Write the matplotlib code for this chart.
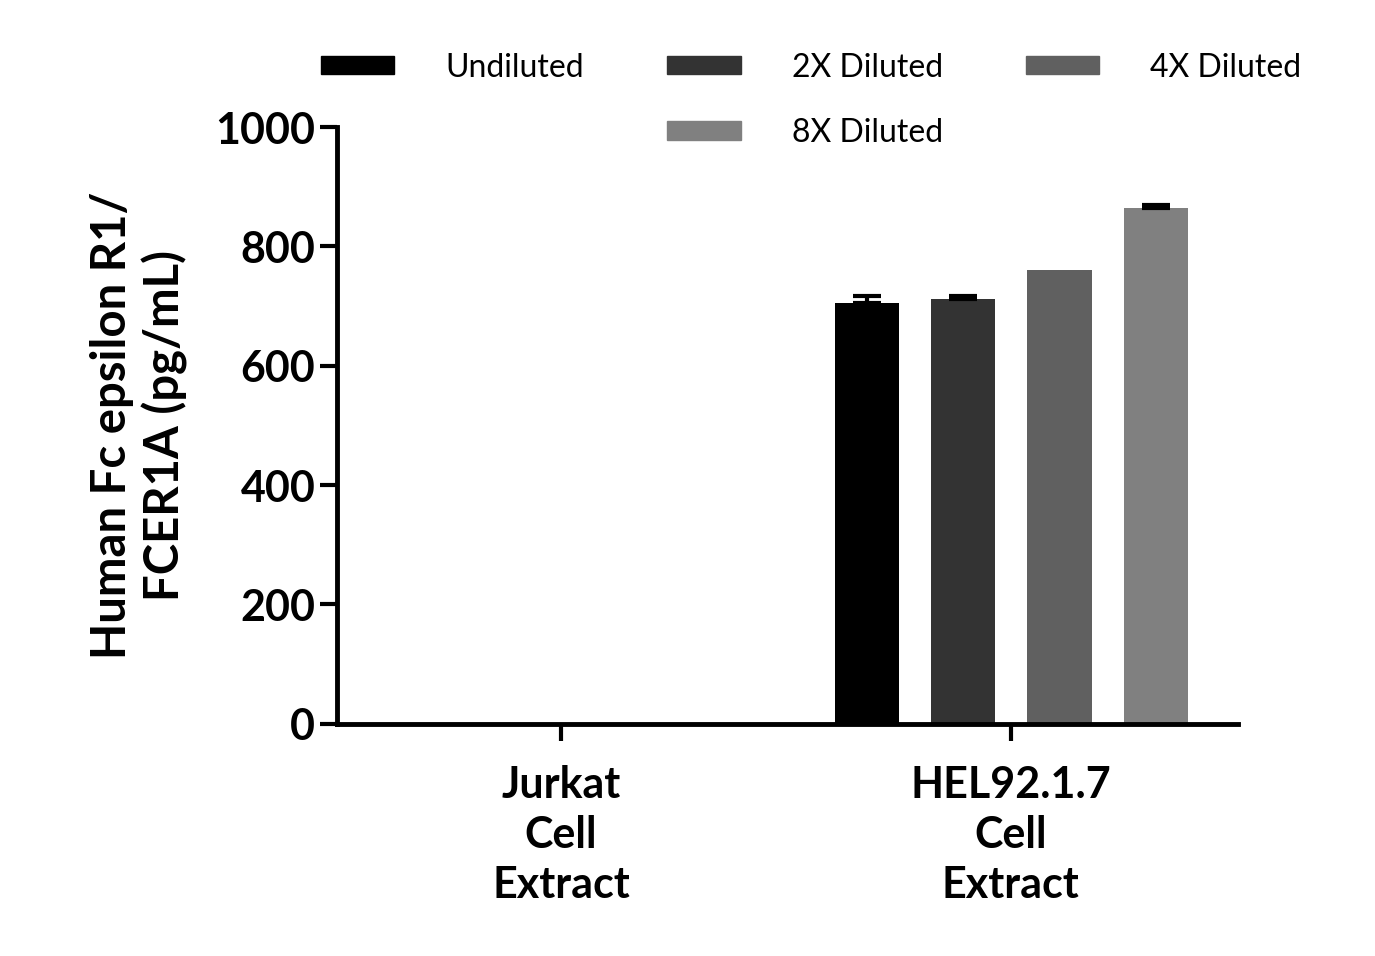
import matplotlib.pyplot as plt
from matplotlib.patches import Patch
import numpy as np

groups = ["Jurkat\nCell\nExtract", "HEL92.1.7\nCell\nExtract"]
series = ["Undiluted", "2X Diluted", "4X Diluted", "8X Diluted"]
values = [[0, 705], [0, 712], [0, 760], [0, 865]]
errors = [[0, 12], [0, 5], [0, 0], [0, 5]]
colors = ["#000000", "#333333", "#606060", "#808080"]

plt.rcParams['font.family'] = ['Lato', 'DejaVu Sans']
fig = plt.figure(figsize=(13.75, 9.56), dpi=100)
ax = fig.add_axes([0.245, 0.243, 0.655, 0.624])

x = np.arange(len(groups))
offsets = [-0.32, -0.106, 0.108, 0.323]
handles = []
for i, name in enumerate(series):
    ax.bar(x + offsets[i], values[i], width=0.143, color=colors[i])
    err = np.array(errors[i])
    has = err > 0
    if has.any():
        ax.errorbar((x + offsets[i])[has], np.array(values[i])[has],
                    yerr=[np.zeros(has.sum()), err[has]], fmt='none',
                    ecolor='black', elinewidth=3, capsize=10, capthick=3)
    handles.append(Patch(color=colors[i], label=name))

ax.set_xlim(-0.498, 1.504)
ax.set_ylim(0, 1000)
ax.set_yticks([0, 200, 400, 600, 800, 1000])
ax.set_xticks(x)
ax.set_xticklabels(groups, fontsize=31, fontweight='bold', linespacing=1.3)
for lab in ax.get_yticklabels():
    lab.set_fontsize(31)
    lab.set_fontweight('bold')
ax.tick_params(width=3, length=12)
ax.tick_params(axis='x', pad=18)
for s in ['top', 'right']:
    ax.spines[s].set_visible(False)
for s in ['left', 'bottom']:
    ax.spines[s].set_linewidth(3.5)
ax.set_ylabel("Human Fc epsilon R1/\nFCER1A (pg/mL)", fontsize=34, fontweight='bold', labelpad=20)

blank = Patch(color='none', label='')
fig.legend([handles[0], blank, handles[1], handles[3], handles[2], blank],
           [series[0], '', series[1], series[3], series[2], ''],
           ncol=3, frameon=False, fontsize=23, loc='upper center',
           bbox_to_anchor=(0.59, 0.975), handlelength=2.3, handleheight=0.5,
           columnspacing=2.6, handletextpad=1.6, labelspacing=1.1)

fig.savefig('out.png', dpi=100)
